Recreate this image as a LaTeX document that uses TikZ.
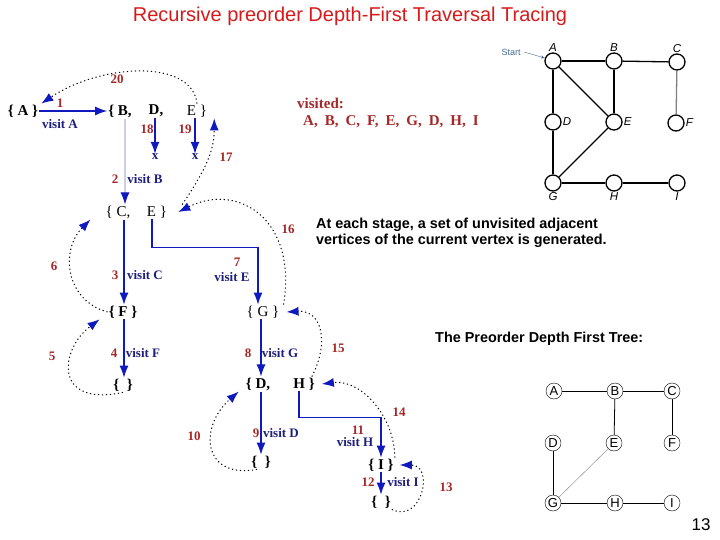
\documentclass[tikz,border=0pt]{standalone}
\usepackage{fontspec}
\setmainfont{Liberation Serif}
\newfontfamily\arial{Liberation Sans}
\usetikzlibrary{positioning,arrows.meta}

\definecolor{titlered}{RGB}{215,25,25}
\definecolor{stepred}{RGB}{165,40,40}
\definecolor{visitblue}{RGB}{30,30,125}
\definecolor{arrowblue}{RGB}{15,25,190}
\definecolor{paleline}{RGB}{205,205,230}
\definecolor{startblue}{RGB}{70,105,150}

\begin{document}
\begin{tikzpicture}[x=1pt, y=-1pt, node distance=1em,
    set/.style={inner sep=1pt, font=\bfseries\fontsize{15}{15}\selectfont},
    lightset/.style={inner sep=1pt, font=\fontsize{15}{15}\selectfont},
    num/.style={inner sep=0pt, text=stepred, font=\bfseries\fontsize{13}{13}\selectfont},
    act/.style={inner sep=0pt, text=visitblue, font=\bfseries\fontsize{13}{13}\selectfont},
    flow/.style={draw=arrowblue, line width=1.1pt, -{Latex[length=12pt,width=9pt]}},
    back/.style={line width=1pt, dash pattern=on 1.2pt off 2.8pt, -{Latex[length=12pt,width=9pt,color=arrowblue]}},
    visited/.style={inner sep=0pt, anchor=west, text=stepred, font=\bfseries\fontsize{15}{15}\selectfont},
    vertex/.style={draw, circle, minimum size=16pt, inner sep=0pt, line width=1.3pt},
    glabel/.style={inner sep=1pt, font=\arial\itshape\fontsize{11.5}{11.5}\selectfont},
    note/.style={inner sep=0pt, font=\arial\bfseries\fontsize{14.4}{16}\selectfont},
    treenode/.style={draw, circle, minimum size=16pt, inner sep=0pt, font=\arial\fontsize{13}{13}\selectfont}
    ]
    \useasboundingbox (0,0) rectangle (720,540);

    \node[text=titlered, font=\arial\fontsize{20}{20}\selectfont] (title) at (350,16) {Recursive preorder Depth-First Traversal Tracing};

    \node[set] (sA) at (23,111) {\{ A \}};
    \node[set] (sB) at (120,111) {\{ B,};
    \node[set] (sBd) at (156,111) {D,};
    \node[lightset] (sBe) at (197,111) {E \}};
    \node[act] (xD) at (155,157) {x};
    \node[act] (xE) at (195,157) {x};
    \node[lightset] (sC) at (118,212) {\{ C,};
    \node[lightset] (sCe) at (157,212) {E \}};
    \node[set] (sF) at (123,312) {\{ F \}};
    \node[set] (sFe) at (123,385) {\{\enspace\}};
    \node[lightset] (sG) at (263,312) {\{ G \}};
    \node[set] (sD) at (258,384) {\{ D,};
    \node[set] (sDh) at (304,384) {H \}};
    \node[set] (sDe) at (261,462) {\{\enspace\}};
    \node[set] (sI) at (381,465) {\{ I \}};
    \node[set] (sIe) at (381,502) {\{\enspace\}};

    \draw[flow] (sA.east) -- (sB.west);
    \draw[flow, draw=paleline, -{Latex[length=12pt,width=9pt,color=arrowblue]}] ([xshift=5pt]sB.south) -- ([xshift=5pt]sB.south |- sC.north);
    \draw[flow] ([xshift=-1pt]sBd.south) -- ([xshift=-1pt]sBd.south |- xD.north);
    \draw[flow] ([xshift=-2pt]sBe.south) -- ([xshift=-2pt]sBe.south |- xE.north);
    \draw[flow] ([xshift=6pt]sC.south) -- ([xshift=6pt]sC.south |- sF.north);
    \draw[flow] ([xshift=-5pt]sCe.south) -- ++(0,28) -| ([xshift=-5pt]sG.north);
    \draw[flow] ([xshift=1pt]sF.south) -- ([xshift=1pt]sF.south |- sFe.north);
    \draw[flow] ([xshift=-2pt]sG.south) -- ([xshift=-2pt]sG.south |- sD.north);
    \draw[flow] ([xshift=3pt]sD.south) -- ([xshift=3pt]sD.south |- sDe.north);
    \draw[flow] ([xshift=-5pt]sDh.south) -- ++(0,26) -| (sI.north);
    \draw[flow] (sI.south) -- (sI.south |- sIe.north);

    \draw[back] (sBe.north) .. controls +(-5,-45) and +(60,-40) .. ([xshift=2pt]sA.north east);
    \draw[back] ([xshift=14pt]sCe.north east) .. controls +(20,-30) and +(0,35) .. ([xshift=6pt]sBe.south east);
    \draw[back] ([xshift=3pt]sG.north east) .. controls +(14,-85) and +(60,-30) .. ([xshift=10pt]sCe.east);
    \draw[back] (sF.west) .. controls +(-43,-12) and +(-30,30) .. ([xshift=-14pt]sC.south west);
    \draw[back] (sFe.south) .. controls +(-70,15) and +(-40,30) .. ([xshift=-8pt]sF.south west);
    \draw[back] ([xshift=-4pt]sDh.north east) .. controls +(18,-35) and +(35,-2) .. ([xshift=6pt]sG.east);
    \draw[back] ([xshift=-4pt]sDe.south) .. controls +(-55,10) and +(-40,35) .. ([xshift=-6pt]sD.south west);
    \draw[back] (sI.north east) .. controls +(0,-40) and +(40,-5) .. ([xshift=6pt]sDh.east);
    \draw[back] (sIe.south east) .. controls +(30,15) and +(35,0) .. ([xshift=5pt]sI.east);

    \foreach \k/\x/\y in {1/60/103, 2/115/179, 3/115/275, 4/114/353, 5/52/356, 6/54/266, 7/237/262,
      8/248/353, 9/256/433, 10/194/436, 11/358/430, 12/368/482, 13/446/487, 14/399/412,
      15/338/348, 16/288/229, 17/226/157, 18/147/129, 19/185/129, 20/117/79} {
      \node[num] (n\k) at (\x,\y) {\k};
    };
    \foreach \v/\x/\y in {A/60/124, B/145/179, C/145/275, E/232/277, F/143/353,
      G/280/353, D/281/433, H/355/442, I/403/482} {
      \node[act] (v\v) at (\x,\y) {visit \v};
    };

    \node[visited] (vlabel) at (297,103) {visited:};
    \node[visited] (vlist) at (303,122) {A,\hspace{7pt}B,\hspace{7pt}C,\hspace{7pt}F,\hspace{7pt}E,\hspace{7pt}G,\hspace{7pt}D,\hspace{7pt}H,\hspace{7pt}I};

    \foreach \name/\x/\y/\side in {A/553/61/above, B/614/61/above, C/677/62/above,
      D/553/122/right, E/614/122/right, F/676/123/right,
      G/553/183/below, H/614/183/below, I/677/183/below} {
      \node[vertex, label={[glabel]\side:\name}] (g\name) at (\x,\y) {};
    };
    \foreach \a/\b in {A/B, B/C, A/D, A/E, B/E, D/G, E/G, G/H, H/I} {
      \draw[line width=1.3pt] (g\a) -- (g\b);
    };
    \draw[line width=1.3pt, gray] (gC) -- (gF);
    \node[text=startblue, font=\arial\fontsize{9}{9}\selectfont] (start) at (511,52) {Start};
    \draw[startblue, -{Stealth[length=4pt]}] (start.east) -- (gA.160);

    \node[note, anchor=north west, align=left] (stage) at (316,218) {At each stage, a set of unvisited adjacent\\vertices of the current vertex is generated.};
    \node[note, anchor=west] (treetitle) at (435,339) {The Preorder Depth First Tree:};

    \foreach \name/\x/\y in {A/554/391, B/615/391, C/672/391, D/553/443, E/614/443,
      F/672/443, G/553/503, H/615/503, I/672/503} {
      \node[treenode] (t\name) at (\x,\y) {\name};
    };
    \foreach \a/\b in {A/B, B/C, B/E, C/F, D/G, G/H, H/I} {
      \draw[line width=0.8pt] (t\a) -- (t\b);
    };
    \draw[gray, thin] (tE) -- (tG);

    \node[font=\arial\fontsize{17}{17}\selectfont] (page) at (701,525) {13};
\end{tikzpicture}
\end{document}
